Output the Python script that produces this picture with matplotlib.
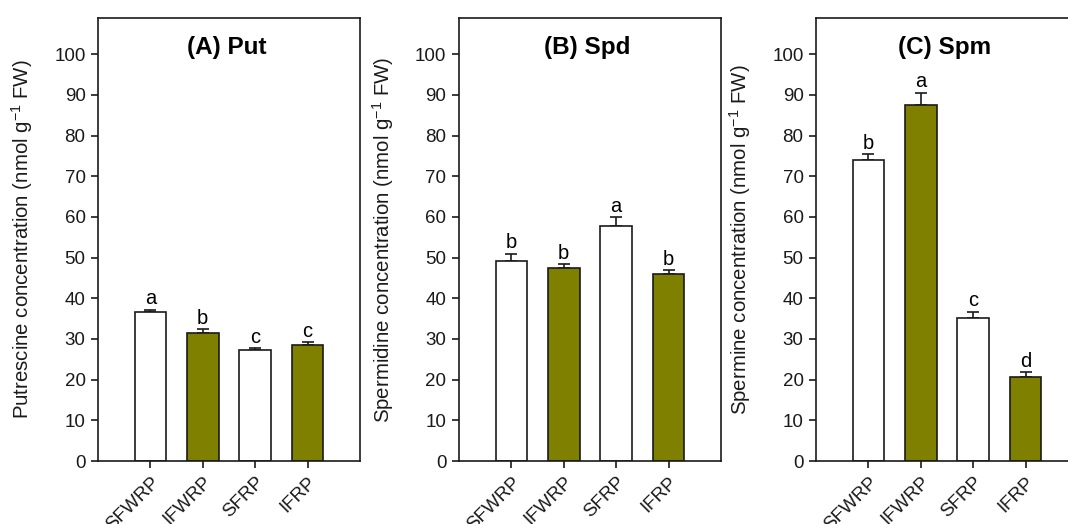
import matplotlib
matplotlib.use("Agg")
import matplotlib.pyplot as plt

plt.rcParams['font.family'] = ['Liberation Sans', 'DejaVu Sans']
plt.rcParams['mathtext.fontset'] = 'custom'
plt.rcParams['mathtext.rm'] = 'Liberation Sans'
plt.rcParams['mathtext.default'] = 'regular'

groups = ["SFWRP", "IFWRP", "SFRP", "IFRP"]
bar_colors = ["white", "#7f7f00", "white", "#7f7f00"]

titles = ["(A) Put", "(B) Spd", "(C) Spm"]
ylabels = [
    "Putrescine concentration (nmol g$^{-1}$ FW)",
    "Spermidine concentration (nmol g$^{-1}$ FW)",
    "Spermine concentration (nmol g$^{-1}$ FW)",
]

put_mean = [36.6, 31.5, 27.2, 28.5]
put_err = [0.6, 0.9, 0.5, 0.7]
put_letters = ["a", "b", "c", "c"]

spd_mean = [49.1, 47.4, 57.8, 46.1]
spd_err = [1.8, 1.0, 2.1, 0.8]
spd_letters = ["b", "b", "a", "b"]

spm_mean = [73.9, 87.6, 35.2, 20.6]
spm_err = [1.5, 3.0, 1.5, 1.2]
spm_letters = ["b", "a", "c", "d"]

panels = [
    (put_mean, put_err, put_letters),
    (spd_mean, spd_err, spd_letters),
    (spm_mean, spm_err, spm_letters),
]

W, H = 1068, 524
fig = plt.figure(figsize=(W / 100, H / 100), dpi=100)

lefts = [98, 459, 816]
ax_w = 262
ax_bottom = 461
ax_top = 17.7

x = [1, 2, 3, 4]
for i, (means, errs, letters) in enumerate(panels):
    ax = fig.add_axes([lefts[i] / W, (H - ax_bottom) / H, ax_w / W, (ax_bottom - ax_top) / H])
    ax.bar(x, means, width=0.6, color=bar_colors, edgecolor="#1a1a1a", linewidth=1.2, zorder=2)
    ax.errorbar(x, means, yerr=[[0] * 4, errs], fmt="none", ecolor="#1a1a1a",
                elinewidth=1.2, capsize=4.5, capthick=1.2, zorder=1)
    for xi, m, e, lt in zip(x, means, errs, letters):
        ax.annotate(lt, (xi, m + e), xytext=(0, 4), textcoords="offset points",
                    ha="center", va="baseline", fontsize=14.5)
    ax.set_xlim(0, 5)
    ax.set_ylim(0, 109)
    ax.set_yticks(range(0, 101, 10))
    ax.set_xticks(x)
    ax.set_xticklabels(groups, rotation=45, ha="right", va="top", rotation_mode="anchor")
    ax.tick_params(axis="both", direction="out", length=5, width=1.2, labelsize=13.5,
                   color="#1a1a1a", labelcolor="#1a1a1a", pad=4)
    for sp in ax.spines.values():
        sp.set_linewidth(1.2)
        sp.set_color("#1a1a1a")
    ax.text(2.45, 100, titles[i], ha="center", va="baseline", fontsize=17.5, fontweight="bold")
    ax.set_ylabel(ylabels[i], fontsize=14.7, color="#1a1a1a")
    ax.yaxis.set_label_coords(-63 / ax_w, 0.5)

fig.savefig("out.png", dpi=100)
